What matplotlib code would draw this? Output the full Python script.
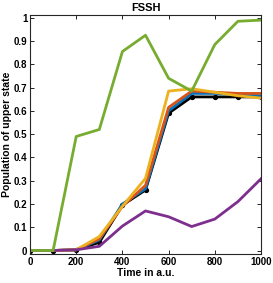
import matplotlib
matplotlib.use("Agg")
import matplotlib.pyplot as plt

time = [0, 100, 200, 300, 400, 500, 600, 700, 800, 900, 1000]
black = [0, 0, 0.003, 0.035, 0.195, 0.26, 0.59, 0.66, 0.66, 0.66, 0.66]
blue = [0, 0, 0.003, 0.045, 0.2, 0.265, 0.6, 0.675, 0.675, 0.67, 0.665]
red = [0, 0, 0.003, 0.05, 0.19, 0.28, 0.615, 0.685, 0.68, 0.675, 0.675]
yellow = [0, 0, 0.003, 0.06, 0.19, 0.31, 0.685, 0.695, 0.68, 0.665, 0.655]
purple = [0, 0, 0.003, 0.018, 0.105, 0.17, 0.145, 0.103, 0.135, 0.21, 0.308]
green = [0, 0, 0.49, 0.52, 0.855, 0.925, 0.74, 0.685, 0.885, 0.985, 0.99]

plt.rcParams['font.family'] = ['Liberation Sans', 'DejaVu Sans']
plt.rcParams['font.weight'] = 'bold'

fig = plt.figure(figsize=(2.73, 2.83), dpi=100)
ax = fig.add_axes([0.110, 0.1025, 0.846, 0.8445])
lw = 2.0
ax.plot(time, black, color='black', lw=lw, marker='o', ms=2.8)
ax.plot(time, blue, color='#0072BD', lw=lw)
ax.plot(time, red, color='#D95319', lw=lw)
ax.plot(time, yellow, color='#EDB120', lw=lw)
ax.plot(time, purple, color='#7E2F8E', lw=lw)
ax.plot(time, green, color='#77AC30', lw=lw)

ax.set_xlim(0, 1000)
ax.set_ylim(-0.015, 1.012)
ax.set_xticks([0, 200, 400, 600, 800, 1000])
ax.set_yticks([0, 0.1, 0.2, 0.3, 0.4, 0.5, 0.6, 0.7, 0.8, 0.9, 1])
ax.set_yticklabels(['0', '0.1', '0.2', '0.3', '0.4', '0.5', '0.6', '0.7', '0.8', '0.9', '1'])
ax.tick_params(direction='in', top=True, right=True, labelsize=7, length=3, width=0.6, pad=2)
for s in ax.spines.values():
    s.set_linewidth(0.8)
    s.set_color('#262626')
ax.set_xlabel('Time in a.u.', fontsize=7.5, fontweight='bold', labelpad=1)
ax.set_ylabel('Population of upper state', fontsize=7.5, fontweight='bold', labelpad=1)
ax.set_title('FSSH', fontsize=8, fontweight='bold', pad=3)

fig.savefig('out.png', dpi=100)
